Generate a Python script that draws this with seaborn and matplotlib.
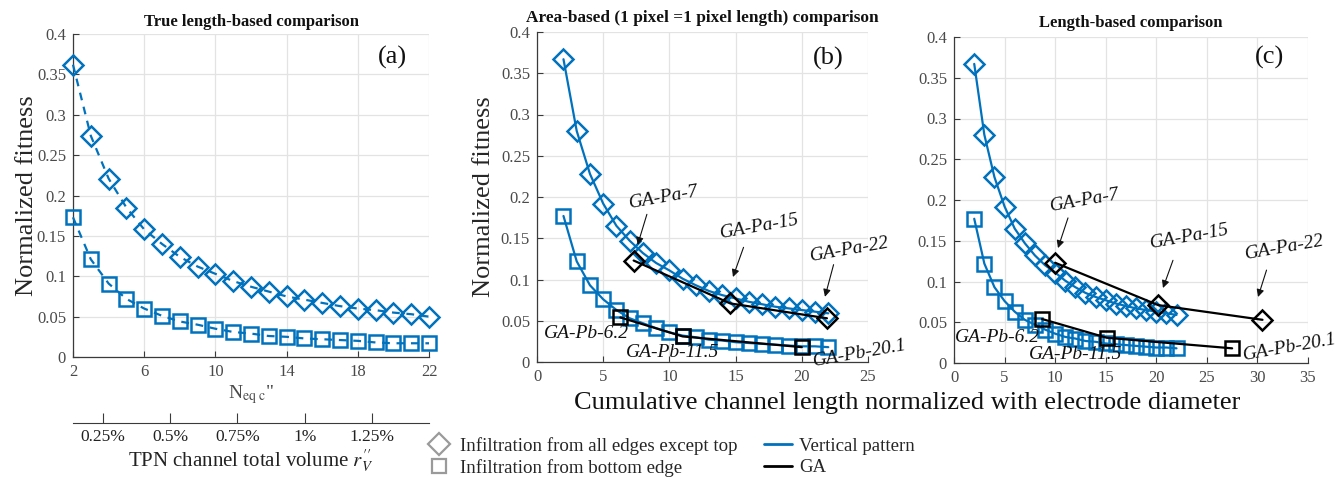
import numpy as np
import pandas as pd
import matplotlib
matplotlib.use("Agg")
import matplotlib.pyplot as plt
from matplotlib.lines import Line2D
import seaborn as sns

# ---------------- data ----------------
n_eq = list(range(2, 23))
a_diamond = [0.362, 0.274, 0.221, 0.185, 0.158, 0.140, 0.124, 0.112, 0.103, 0.094, 0.087,
             0.081, 0.075, 0.071, 0.067, 0.063, 0.060, 0.058, 0.055, 0.053, 0.050]
a_square = [0.173, 0.121, 0.091, 0.072, 0.060, 0.051, 0.044, 0.040, 0.035, 0.031, 0.029,
            0.026, 0.025, 0.023, 0.022, 0.021, 0.020, 0.018, 0.017, 0.017, 0.017]

vp_x = list(range(2, 23))
vp_diamond = [0.367, 0.280, 0.228, 0.192, 0.165, 0.147, 0.132, 0.120, 0.111, 0.101, 0.093,
              0.086, 0.081, 0.077, 0.073, 0.070, 0.067, 0.065, 0.063, 0.061, 0.059]
vp_square = [0.177, 0.122, 0.093, 0.076, 0.063, 0.053, 0.047, 0.041, 0.036, 0.032, 0.030,
             0.027, 0.026, 0.024, 0.023, 0.022, 0.021, 0.020, 0.019, 0.019, 0.018]

ga_pa_y = [0.123, 0.071, 0.053]
ga_pb_y = [0.054, 0.031, 0.018]
ga_pa_x_area = [7.3, 14.6, 21.9]
ga_pb_x_area = [6.3, 11.0, 20.0]
ga_pa_x_len = [10.0, 20.2, 30.5]
ga_pb_x_len = [8.7, 15.1, 27.5]
ga_pa_names = ["GA-Pa-7", "GA-Pa-15", "GA-Pa-22"]
ga_pb_names = ["GA-Pb-6.2", "GA-Pb-11.5", "GA-Pb-20.1"]

vol_ticks = [0.25, 0.5, 0.75, 1.0, 1.25]
vol_labels = ["0.25%", "0.5%", "0.75%", "1%", "1.25%"]

titles = ["True length-based comparison",
          "Area-based (1 pixel =1 pixel length) comparison",
          "Length-based comparison"]
panel_tags = ["(a)", "(b)", "(c)"]

# ---------------- style ----------------
sns.set_style("ticks")
plt.rcParams['font.family'] = ['Liberation Serif', 'DejaVu Serif']
plt.rcParams['mathtext.fontset'] = 'stix'

BLUE = "#0072BD"
TICKC = "#4a4a4a"
W, H = 1336, 478
fig = plt.figure(figsize=(W / 100, H / 100), dpi=100)


def px_axes(l, r, t, b):
    return fig.add_axes([l / W, 1 - b / H, (r - l) / W, (b - t) / H])


def style_axes(ax, xlim, xticks):
    ax.set_xlim(*xlim)
    ax.set_ylim(0, 0.4)
    ax.set_xticks(xticks)
    ax.set_yticks(np.arange(0, 0.401, 0.05))
    ax.set_yticklabels(["0" if v == 0 else f"{v:g}" for v in np.arange(0, 0.401, 0.05)])
    ax.grid(True, color="#e3e3e3", linewidth=0.9)
    ax.set_axisbelow(True)
    for s in ["top", "right"]:
        ax.spines[s].set_visible(False)
    for s in ["left", "bottom"]:
        ax.spines[s].set_color("#3a3a3a")
        ax.spines[s].set_linewidth(0.9)
    ax.tick_params(direction="in", length=4, labelsize=12, colors="#3a3a3a",
                   labelcolor=TICKC, pad=5)


def plot_series(ax, x, y, marker, color, ls, ms):
    sns.lineplot(x=x, y=y, ax=ax, color=color, linestyle=ls, linewidth=1.6,
                 marker=marker, markersize=ms, markerfacecolor="none",
                 markeredgecolor=color, markeredgewidth=1.8, zorder=3, clip_on=False)


# ---------------- panel (a) ----------------
axa = px_axes(73, 429, 34, 357)
style_axes(axa, (2, 22), [2, 6, 10, 14, 18, 22])
plot_series(axa, n_eq, a_diamond, "D", BLUE, (0, (3.5, 3)), 10)
plot_series(axa, n_eq, a_square, "s", BLUE, (0, (3.5, 3)), 9.5)
axa.set_ylabel("Normalized fitness", fontsize=19)
axa.yaxis.set_label_coords(-0.098, 0.5)
axa.set_xlabel(r'N$_{\mathrm{eq\ c}}$"', fontsize=14, color=TICKC)
axa.xaxis.set_label_coords(0.5, -0.08)

# secondary volume axis
axv = px_axes(73, 429, 422, 423)
axv.set_xlim(0.1385, 1.462)
axv.set_yticks([])
for s in ["top", "right", "left"]:
    axv.spines[s].set_visible(False)
axv.spines["bottom"].set_color("#3a3a3a")
axv.set_xticks(vol_ticks)
axv.set_xticklabels(vol_labels)
axv.tick_params(axis="x", direction="in", length=7, labelsize=12.5, colors="#3a3a3a",
                labelcolor="#222222", pad=4)
axv.patch.set_alpha(0)
fig.text(251 / W, 1 - 461 / H, r"TPN channel total volume $r_V''$", ha="center",
         va="center", fontsize=15, color="#222222")

# ---------------- panels (b), (c) ----------------
axb = px_axes(537, 868, 32, 362)
style_axes(axb, (0, 25), [0, 5, 10, 15, 20, 25])
axc = px_axes(954, 1308, 37, 363)
style_axes(axc, (0, 35), [0, 5, 10, 15, 20, 25, 30, 35])

for ax, pa_x, pb_x in [(axb, ga_pa_x_area, ga_pb_x_area), (axc, ga_pa_x_len, ga_pb_x_len)]:
    plot_series(ax, vp_x, vp_diamond, "D", BLUE, "-", 10)
    plot_series(ax, vp_x, vp_square, "s", BLUE, "-", 9.5)
    plot_series(ax, pa_x, ga_pa_y, "D", "black", "-", 10)
    plot_series(ax, pb_x, ga_pb_y, "s", "black", "-", 9.5)

axb.set_ylabel("Normalized fitness", fontsize=19)
axb.yaxis.set_label_coords(-0.127, 0.5)

# annotations: (text pos, arrow tail, arrow head)
ann_b = [
    ((9.6, 0.200), (8.3, 0.179), (7.6, 0.142)),
    ((16.8, 0.164), (15.6, 0.139), (14.8, 0.103)),
    ((23.6, 0.136), (22.4, 0.118), (21.75, 0.079)),
]
ann_c = [
    ((12.95, 0.200), (11.27, 0.178), (10.28, 0.141)),
    ((23.3, 0.155), (21.65, 0.126), (20.66, 0.092)),
    ((32.7, 0.142), (30.9, 0.114), (30.06, 0.081)),
]
pb_b = [((3.7, 0.035), 0), ((10.2, 0.012), 0), ((24.4, 0.011), 10)]
pb_c = [((4.25, 0.031), 0), ((12.06, 0.010), 0), ((33.2, 0.019), 10)]

for ax, ann, pbpos in [(axb, ann_b, pb_b), (axc, ann_c, pb_c)]:
    for name, (tp, tail, head) in zip(ga_pa_names, ann):
        ax.text(tp[0], tp[1], name, ha="center", va="center", fontsize=14,
                style="italic", rotation=10, color="#111111", clip_on=False, zorder=5)
        ax.annotate("", xy=head, xytext=tail,
                    arrowprops=dict(arrowstyle="-|>", color="#111111", lw=0.8,
                                    mutation_scale=11, shrinkA=0, shrinkB=0),
                    annotation_clip=False, zorder=5)
    for name, (tp, rot) in zip(ga_pb_names, pbpos):
        ax.text(tp[0], tp[1], name, ha="center", va="center", fontsize=14,
                style="italic", rotation=rot, color="#111111", clip_on=False, zorder=5)

# titles & panel tags
for ax, title, ty, fs in [(axa, titles[0], 22, 12), (axb, titles[1], 18, 12.4),
                          (axc, titles[2], 23, 12)]:
    pos = ax.get_position()
    cx = (pos.x0 + pos.x1) / 2
    fig.text(cx, 1 - ty / H, title, ha="center", va="center", fontsize=fs,
             fontweight="bold", color="#111111")
tag_px = [(392, 57), (828, 58), (1270, 57)]
for tag, (tx, ty) in zip(panel_tags, tag_px):
    fig.text(tx / W, 1 - ty / H, tag, ha="center", va="center", fontsize=19, color="#111111")

fig.text(907 / W, 1 - 403 / H, "Cumulative channel length normalized with electrode diameter",
         ha="center", va="center", fontsize=19, color="#111111")

# legend
GRAY = "#9a9a9a"
handles = [
    Line2D([], [], linestyle="none", marker="D", markersize=11, markerfacecolor="none",
           markeredgecolor=GRAY, markeredgewidth=1.6),
    Line2D([], [], linestyle="none", marker="s", markersize=10, markerfacecolor="none",
           markeredgecolor=GRAY, markeredgewidth=1.6),
    Line2D([], [], color=BLUE, linewidth=2),
    Line2D([], [], color="black", linewidth=2),
]
labels = ["Infiltration from all edges except top", "Infiltration from bottom edge",
          "Vertical pattern", "GA"]
fig.legend(handles, labels, ncol=2, loc="upper left", bbox_to_anchor=(425 / W, 1 - 437 / H),
           frameon=False, fontsize=13.6, handlelength=1.5, handletextpad=0.35,
           columnspacing=1.4, labelspacing=0.22, borderpad=0, borderaxespad=0)

fig.savefig("out.png", dpi=100)
